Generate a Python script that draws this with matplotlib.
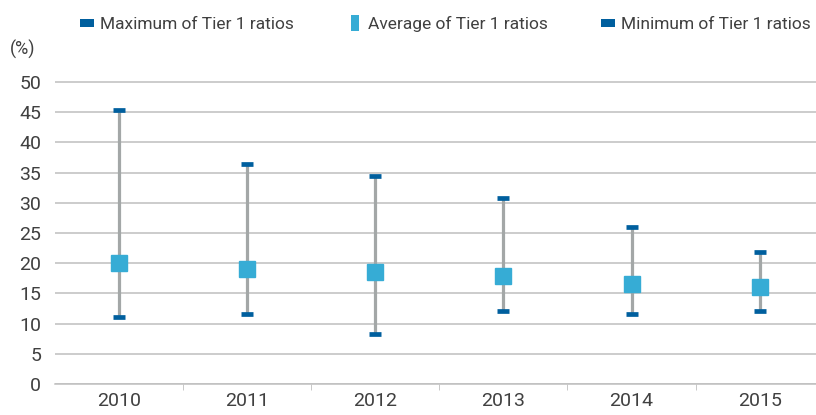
import matplotlib.pyplot as plt
import numpy as np

plt.rcParams['font.family'] = ['Roboto', 'DejaVu Sans']

years = ['2010', '2011', '2012', '2013', '2014', '2015']
max_t1 = [45.4, 36.4, 34.4, 30.8, 26.0, 21.8]
avg_t1 = [20.0, 19.0, 18.5, 17.9, 16.6, 16.1]
min_t1 = [11.1, 11.6, 8.3, 12.1, 11.6, 12.1]

dark = '#005F9E'
light = '#36ACD5'
grey_line = '#A3A7A7'
text_c = '#404040'

fig = plt.figure(figsize=(8.16, 4.15), dpi=100)
ax = fig.add_axes([55 / 816, 31 / 415, 1 - 55 / 816, 305 / 415])

x = np.arange(len(years))
ax.vlines(x, min_t1, max_t1, color=grey_line, lw=2.3, zorder=2)
ax.plot(x, max_t1, ls='none', marker='_', ms=9, mew=3.4, color=dark, zorder=3,
        label='Maximum of Tier 1 ratios')
ax.plot(x, avg_t1, ls='none', marker='s', ms=11, color=light, zorder=4,
        label='Average of Tier 1 ratios')
ax.plot(x, min_t1, ls='none', marker='_', ms=9, mew=3.4, color=dark, zorder=3,
        label='Minimum of Tier 1 ratios')

ax.set_ylim(0, 50.5)
ax.set_xlim(-0.5, 5.44)
ax.set_yticks(range(0, 51, 5))
ax.yaxis.grid(True, color='#BFBFBF', lw=1.1)
ax.set_axisbelow(True)
ax.set_xticks(x)
ax.set_xticklabels(years)
ax.set_xticks(np.arange(0.5, 5.5, 1), minor=True)
ax.tick_params(axis='x', which='major', length=0, labelsize=14, colors=text_c, pad=6)
ax.tick_params(axis='x', which='minor', length=4, color='#BFBFBF', direction='out')
ax.tick_params(axis='y', length=0, labelsize=14, colors=text_c, pad=10)
for s in ['top', 'right', 'left']:
    ax.spines[s].set_visible(False)
ax.spines['bottom'].set_color('#BFBFBF')
ax.spines['bottom'].set_linewidth(1.1)

fig.text(10 / 816, 1 - 49 / 415, '(%)', fontsize=13, color=text_c, va='center')

# legend keys: wide dark rectangles, narrow tall light one
wide = [(-1, -0.55), (1, -0.55), (1, 0.55), (-1, 0.55)]
tall = [(-0.5, -1), (0.5, -1), (0.5, 1), (-0.5, 1)]
l = [ln.get_label() for ln in ax.get_lines()]
h2 = [plt.Line2D([], [], ls='none', marker=wide, ms=10.5, color=dark, markeredgewidth=0),
      plt.Line2D([], [], ls='none', marker=tall, ms=11.5, color=light, markeredgewidth=0),
      plt.Line2D([], [], ls='none', marker=wide, ms=10.5, color=dark, markeredgewidth=0)]
fig.legend(h2, l, loc='center', bbox_to_anchor=(0.545, 1 - 24 / 415), ncol=3,
           frameon=False, fontsize=12.5, labelcolor=text_c, handletextpad=0.25,
           columnspacing=3.0, handlelength=1.0)

fig.savefig('out.png', dpi=100)
